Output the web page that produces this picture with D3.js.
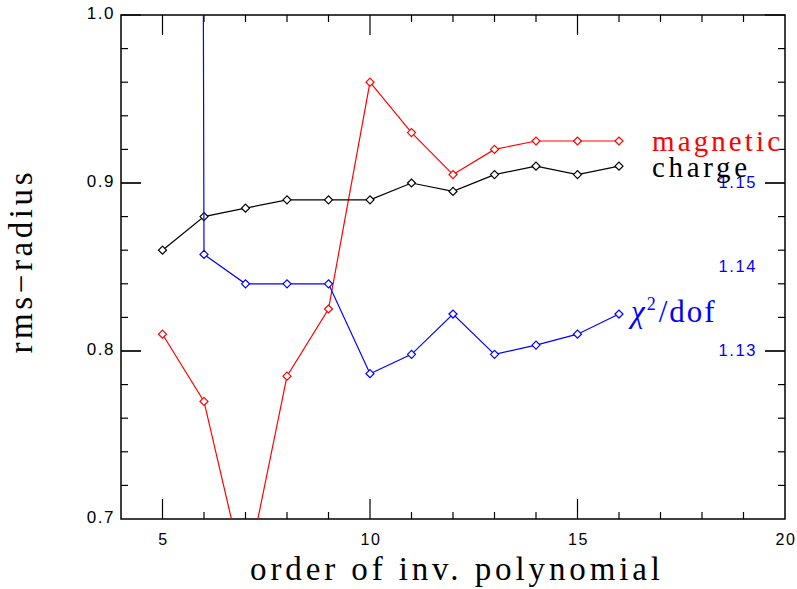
<html>
<script src='https://d3js.org/d3.v7.min.js'></script>
<style>
body {margin: 0; background: white;}
text {font-family: "Liberation Serif", "Times New Roman", serif;}
text.num {font-family: "Liberation Sans", Arial, sans-serif;}
</style>
<body>
<svg width=797 height=589></svg>
<script>

// data
const orders = [5, 6, 7, 8, 9, 10, 11, 12, 13, 14, 15, 16];
const charge = [0.86, 0.88, 0.885, 0.89, 0.89, 0.89, 0.90, 0.895, 0.905, 0.91, 0.905, 0.91];
const magnetic = [0.81, 0.77, 0.664, 0.785, 0.825, 0.96, 0.93, 0.905, 0.92, 0.925, 0.925, 0.925];
const chi2 = [3.0, 1.1415, 1.138, 1.138, 1.138, 1.1273, 1.1296, 1.1344, 1.1296, 1.1307, 1.132, 1.1344];
const xTickLabels = [5, 10, 15, 20];
const yTickLabels = [0.7, 0.8, 0.9, 1.0];
const chiTickLabels = [1.13, 1.14, 1.15];

const pLeft = 121, pRight = 785, pTop = 15, pBottom = 519;

const x = d3.scaleLinear().domain([4, 20]).range([pLeft, pRight]);
const y = d3.scaleLinear().domain([0.7, 1.0]).range([pBottom, pTop]);
const y2 = d3.scaleLinear().domain([1.11, 1.17]).range([pBottom, pTop]);

const svg = d3.select("svg");

svg.append("clipPath").attr("id", "clip")
  .append("rect").attr("x", pLeft).attr("y", pTop)
  .attr("width", pRight - pLeft).attr("height", pBottom - pTop);

// frame
svg.append("rect").attr("x", pLeft).attr("y", pTop)
  .attr("width", pRight - pLeft).attr("height", pBottom - pTop)
  .attr("fill", "none").attr("stroke", "black").attr("stroke-width", 1.5);

// ticks, all pointing inward
const xMinor = d3.range(5, 20, 1);
const yMinor = d3.range(0.72, 1.0, 0.02).concat([0.8, 0.9]);
const tickG = svg.append("g").attr("stroke", "black").attr("stroke-width", 1.2);
xMinor.forEach(v => {
  const len = v % 5 == 0 ? 20 : 7;
  tickG.append("line").attr("x1", x(v)).attr("x2", x(v)).attr("y1", pBottom).attr("y2", pBottom - len);
  tickG.append("line").attr("x1", x(v)).attr("x2", x(v)).attr("y1", pTop).attr("y2", pTop + len);
});
yMinor.forEach(v => {
  const major = Math.abs(v * 10 - Math.round(v * 10)) < 1e-6;
  const len = major ? 20 : 7;
  tickG.append("line").attr("x1", pLeft).attr("x2", pLeft + len).attr("y1", y(v)).attr("y2", y(v));
  tickG.append("line").attr("x1", pRight).attr("x2", pRight - len).attr("y1", y(v)).attr("y2", y(v));
});

// tick labels
svg.append("g").selectAll("text").data(xTickLabels).enter().append("text")
  .attr("class", "num")
  .attr("x", d => x(d) + 1).attr("y", 541)
  .attr("text-anchor", "middle").attr("dominant-baseline", "middle")
  .attr("font-size", 16).attr("letter-spacing", 1.5).text(d => d);

svg.append("g").selectAll("text").data(yTickLabels).enter().append("text")
  .attr("class", "num")
  .attr("x", 115).attr("y", d => y(d))
  .attr("text-anchor", "end").attr("dominant-baseline", "middle")
  .attr("font-size", 17).attr("letter-spacing", 1.5).text(d => d3.format(".1f")(d));

svg.append("g").selectAll("text").data(chiTickLabels).enter().append("text")
  .attr("class", "num")
  .attr("x", 757).attr("y", d => y2(d) + 1)
  .attr("text-anchor", "end").attr("dominant-baseline", "middle")
  .attr("font-size", 16.5).attr("letter-spacing", 1.6).attr("fill", "#0000ff")
  .text(d => d3.format(".2f")(d));

// axis titles
svg.append("text").attr("x", 455).attr("y", 580)
  .attr("text-anchor", "middle").attr("font-size", 33)
  .attr("textLength", 410).attr("lengthAdjust", "spacing")
  .text("order of inv. polynomial");

svg.append("text").attr("transform", "translate(32,263)rotate(-90)")
  .attr("text-anchor", "middle").attr("font-size", 33)
  .attr("textLength", 181).attr("lengthAdjust", "spacing")
  .text("rms\u2212radius");

// series
const series = [
  {vals: magnetic, color: "#ff0000", scale: y},
  {vals: charge, color: "black", scale: y},
  {vals: chi2, color: "#0000ff", scale: y2}
];

const plot = svg.append("g").attr("clip-path", "url(#clip)");
series.forEach(s => {
  const pts = orders.map((o, i) => [x(o), s.scale(s.vals[i])]);
  plot.append("path").attr("d", d3.line()(pts))
    .attr("fill", "none").attr("stroke", s.color).attr("stroke-width", 1.2);
  plot.append("g").selectAll("path").data(pts).enter().append("path")
    .attr("d", d => "M" + (d[0] - 4) + "," + d[1] + "L" + d[0] + "," + (d[1] - 4) +
      "L" + (d[0] + 4) + "," + d[1] + "L" + d[0] + "," + (d[1] + 4) + "Z")
    .attr("fill", "white").attr("stroke", s.color).attr("stroke-width", 1.2);
});

// series labels
svg.append("text").attr("x", 652).attr("y", 151).attr("font-size", 29)
  .attr("fill", "#ff0000").attr("textLength", 128).attr("lengthAdjust", "spacing")
  .text("magnetic");
svg.append("text").attr("x", 652).attr("y", 177).attr("font-size", 29)
  .attr("fill", "black").attr("textLength", 95).attr("lengthAdjust", "spacing")
  .text("charge");
const chiLabel = svg.append("text").attr("x", 631).attr("y", 322).attr("font-size", 31)
  .attr("fill", "#0000ff");
chiLabel.append("tspan").attr("font-style", "italic").text("χ");
chiLabel.append("tspan").attr("dy", -12).attr("dx", 2).attr("font-size", 18).text("2");
chiLabel.append("tspan").attr("dy", 12).attr("dx", 3).attr("letter-spacing", 2).text("/dof");

</script>
</body>
</html>
